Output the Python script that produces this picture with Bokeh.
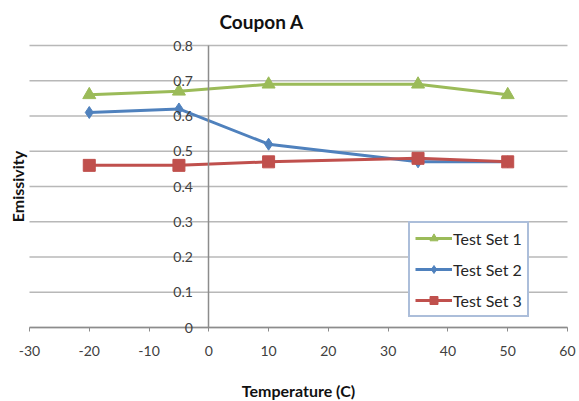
from bokeh.plotting import figure
from bokeh.models import Legend, LegendItem, Label, Range1d, FixedTicker
from bokeh.embed import file_html
from bokeh.resources import INLINE

temps = [-20, -5, 10, 35, 50]
set1 = [0.66, 0.67, 0.69, 0.69, 0.66]
set2 = [0.61, 0.62, 0.52, 0.47, 0.47]
set3 = [0.46, 0.46, 0.47, 0.48, 0.47]
x_ticks = [-30, -20, -10, 0, 10, 20, 30, 40, 50, 60]
y_ticks = [0, 0.1, 0.2, 0.3, 0.4, 0.5, 0.6, 0.7, 0.8]
x_labels = {-30: "-30", -20: "-20", -10: "-10"}

FONT = "Lato"
# frame covers the whole canvas below the title; axes cross inside it
p = figure(width=579, height=401, output_backend="svg", toolbar_location=None,
           x_range=Range1d(-34.85, 62.01), y_range=Range1d(-0.2099, 0.8199))
p.min_border_left = 0
p.min_border_right = 0
p.min_border_top = 38
p.min_border_bottom = 0
p.outline_line_color = None
p.background_fill_color = "white"
p.border_fill_color = "white"

p.title.text = "Coupon A"
p.title.align = "left"
p.title.offset = 219
p.title.text_font = FONT
p.title.text_font_size = "19px"
p.title.text_font_style = "bold"
p.title.text_color = "#111111"
p.title.standoff = 12

# horizontal gridlines limited to the x extent of the axis
n = len(y_ticks)
p.segment(x0=[x_ticks[0]] * n, x1=[x_ticks[-1]] * n, y0=y_ticks, y1=y_ticks,
          line_color="#b8b8b8", line_width=1.5, level="underlay")
p.xgrid.visible = False
p.ygrid.visible = False

# x axis along y=0
xa = p.xaxis[0]
xa.fixed_location = 0
xa.bounds = (-30, 60)
xa.ticker = FixedTicker(ticks=x_ticks)
xa.major_label_overrides = x_labels
xa.minor_tick_line_color = None
xa.major_tick_in = 0
xa.major_tick_out = 4
xa.axis_line_color = "#8c8c8c"
xa.axis_line_width = 1.5
xa.major_tick_line_color = "#8c8c8c"
xa.major_label_text_font = FONT
xa.major_label_text_font_size = "14px"
xa.major_label_text_color = "#404040"
xa.major_label_standoff = 14
xa.axis_label = "Temperature (C)"
xa.axis_label_text_font = FONT
xa.axis_label_text_font_size = "16px"
xa.axis_label_text_font_style = "bold"
xa.axis_label_text_color = "#111111"
xa.axis_label_standoff = 22

# y axis crossing at x=0
ya = p.yaxis[0]
ya.fixed_location = 0
ya.bounds = (0, 0.8)
ya.ticker = FixedTicker(ticks=y_ticks)
ya.minor_tick_line_color = None
ya.major_tick_line_color = None
ya.major_tick_out = 0
ya.major_tick_in = 0
ya.axis_line_color = "#8c8c8c"
ya.axis_line_width = 1.5
ya.major_label_text_font = FONT
ya.major_label_text_font_size = "14px"
ya.major_label_text_color = "#404040"
ya.major_label_standoff = 16

p.add_layout(Label(x=-32.0, y=0.4, text="Emissivity", angle=1.5708,
                   text_align="center", text_baseline="middle",
                   text_font=FONT, text_font_size="16px", text_font_style="bold",
                   text_color="#111111"))

green, blue, red = "#9bbb59", "#4f81bd", "#c0504d"
l1 = p.line(temps, set1, line_color=green, line_width=3)
m1 = p.scatter(temps, set1, marker="triangle", size=13, fill_color=green, line_color=green)
l2 = p.line(temps, set2, line_color=blue, line_width=3)
m2 = p.scatter(temps, set2, marker="diamond", size=12, fill_color=blue, line_color=blue)
l3 = p.line(temps, set3, line_color=red, line_width=3)
m3 = p.scatter(temps, set3, marker="square", size=12, fill_color=red, line_color=red)

legend = Legend(items=[
    LegendItem(label="Test Set 1", renderers=[l1, m1]),
    LegendItem(label="Test Set 2", renderers=[l2, m2]),
    LegendItem(label="Test Set 3", renderers=[l3, m3]),
], location=(408, 84))
legend.label_text_font = FONT
legend.label_text_font_size = "16px"
legend.label_text_color = "#262626"
legend.glyph_width = 37
legend.label_standoff = 1
legend.spacing = 11
legend.padding = 5
legend.border_line_color = "#5a7db5"
legend.border_line_width = 2
legend.background_fill_alpha = 1.0
p.add_layout(legend, "center")

open("out.html", "w").write(file_html(p, INLINE))
